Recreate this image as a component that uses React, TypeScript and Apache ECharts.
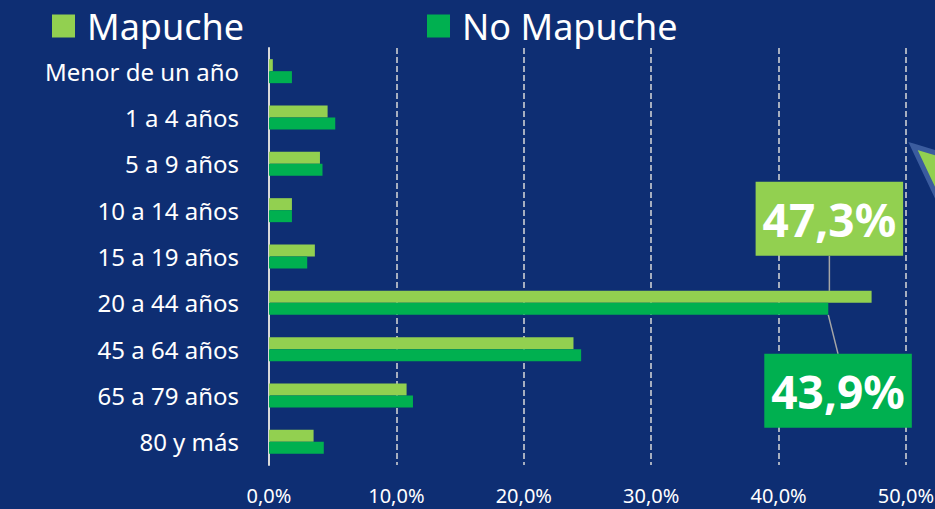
import React, { useEffect, useRef } from "react";
import * as echarts from "echarts";

const categories = [
  "Menor de un año",
  "1 a 4 años",
  "5 a 9 años",
  "10 a 14 años",
  "15 a 19 años",
  "20 a 44 años",
  "45 a 64 años",
  "65 a 79 años",
  "80 y más",
];
const mapuche = [0.3, 4.6, 4.0, 1.8, 3.6, 47.3, 23.9, 10.8, 3.5];
const noMapuche = [1.8, 5.2, 4.2, 1.8, 3.0, 43.9, 24.5, 11.3, 4.3];
const highlightIndex = 5;
const xTicks = { min: 0, max: 50, interval: 10 };

const LIGHT = "#92d050";
const DARK = "#00b050";
const BG = "#0e2e73";
const FONT = "Noto Sans";

const fmt = (v: number) => v.toFixed(1).replace(".", ",") + "%";

export default function App() {
  const ref = useRef<HTMLDivElement>(null);
  useEffect(() => {
    if (!ref.current) return;
    const chart = echarts.init(ref.current, null, { renderer: "svg" });
    const mkData = (arr: number[], color: string) =>
      arr.map((v, i) =>
        i === highlightIndex
          ? {
              value: v,
              label: {
                show: true,
                position: "right",
                formatter: () => fmt(v),
                color: "#ffffff",
                fontFamily: FONT,
                fontWeight: "bold",
                fontSize: 46,
                lineHeight: 56,
                backgroundColor: color,
                padding: [9, 7, 9, 7],
              },
            }
          : v
      );
    const legendText = {
      color: "#ffffff",
      fontSize: 36,
      fontFamily: FONT,
      lineHeight: 40,
      padding: [0, 0, 0, 7],
    };
    chart.setOption({
      animation: false,
      backgroundColor: BG,
      textStyle: { fontFamily: FONT },
      legend: [
        {
          data: ["Mapuche"],
          left: 52,
          top: 6,
          padding: 0,
          itemWidth: 23,
          itemHeight: 23,
          itemGap: 0,
          icon: "rect",
          textStyle: legendText,
        },
        {
          data: ["No Mapuche"],
          left: 427,
          top: 6,
          padding: 0,
          itemWidth: 23,
          itemHeight: 23,
          itemGap: 0,
          icon: "rect",
          textStyle: legendText,
        },
      ],
      grid: { left: 269, right: 29, top: 48, bottom: 44, containLabel: false, outerBoundsMode: "none" },
      xAxis: {
        type: "value",
        min: xTicks.min,
        max: xTicks.max,
        interval: xTicks.interval,
        axisLine: { show: false },
        axisTick: { show: false },
        axisLabel: {
          color: "#ffffff",
          fontSize: 20,
          fontFamily: FONT,
          margin: 20,
          formatter: (v: number) => fmt(v),
        },
        splitLine: {
          show: true,
          lineStyle: { color: "#d9d9d9", width: 1.5, type: [6, 3] },
        },
      },
      yAxis: {
        type: "category",
        data: categories,
        inverse: true,
        axisLine: { show: true, lineStyle: { color: "#d9d9d9", width: 2 } },
        axisTick: { show: false },
        axisLabel: {
          color: "#ffffff",
          fontSize: 24,
          fontFamily: FONT,
          margin: 30,
        },
      },
      series: [
        {
          name: "Mapuche",
          type: "bar",
          data: mkData(mapuche, LIGHT),
          barWidth: 12,
          barGap: "0%",
          itemStyle: { color: LIGHT },
          labelLayout: { dx: -121, dy: -78 },
          labelLine: { show: true, lineStyle: { color: "#a6a6a6", width: 1.5 } },
        },
        {
          name: "No Mapuche",
          type: "bar",
          data: mkData(noMapuche, DARK),
          barWidth: 12,
          barGap: "0%",
          itemStyle: { color: DARK },
          labelLayout: { dx: -69, dy: 82 },
          labelLine: { show: true, lineStyle: { color: "#a6a6a6", width: 1.5 } },
        },
      ],
      graphic: [
        {
          type: "polygon",
          shape: { points: [[913, 146], [985, 168], [955, 235]] },
          style: { fill: LIGHT, stroke: "#3b5c9e", lineWidth: 5 },
          z: 10,
        },
      ],
    });
    return () => chart.dispose();
  }, []);
  return <div ref={ref} style={{ width: 935, height: 509, position: "fixed", left: 0, top: 0 }} />;
}
